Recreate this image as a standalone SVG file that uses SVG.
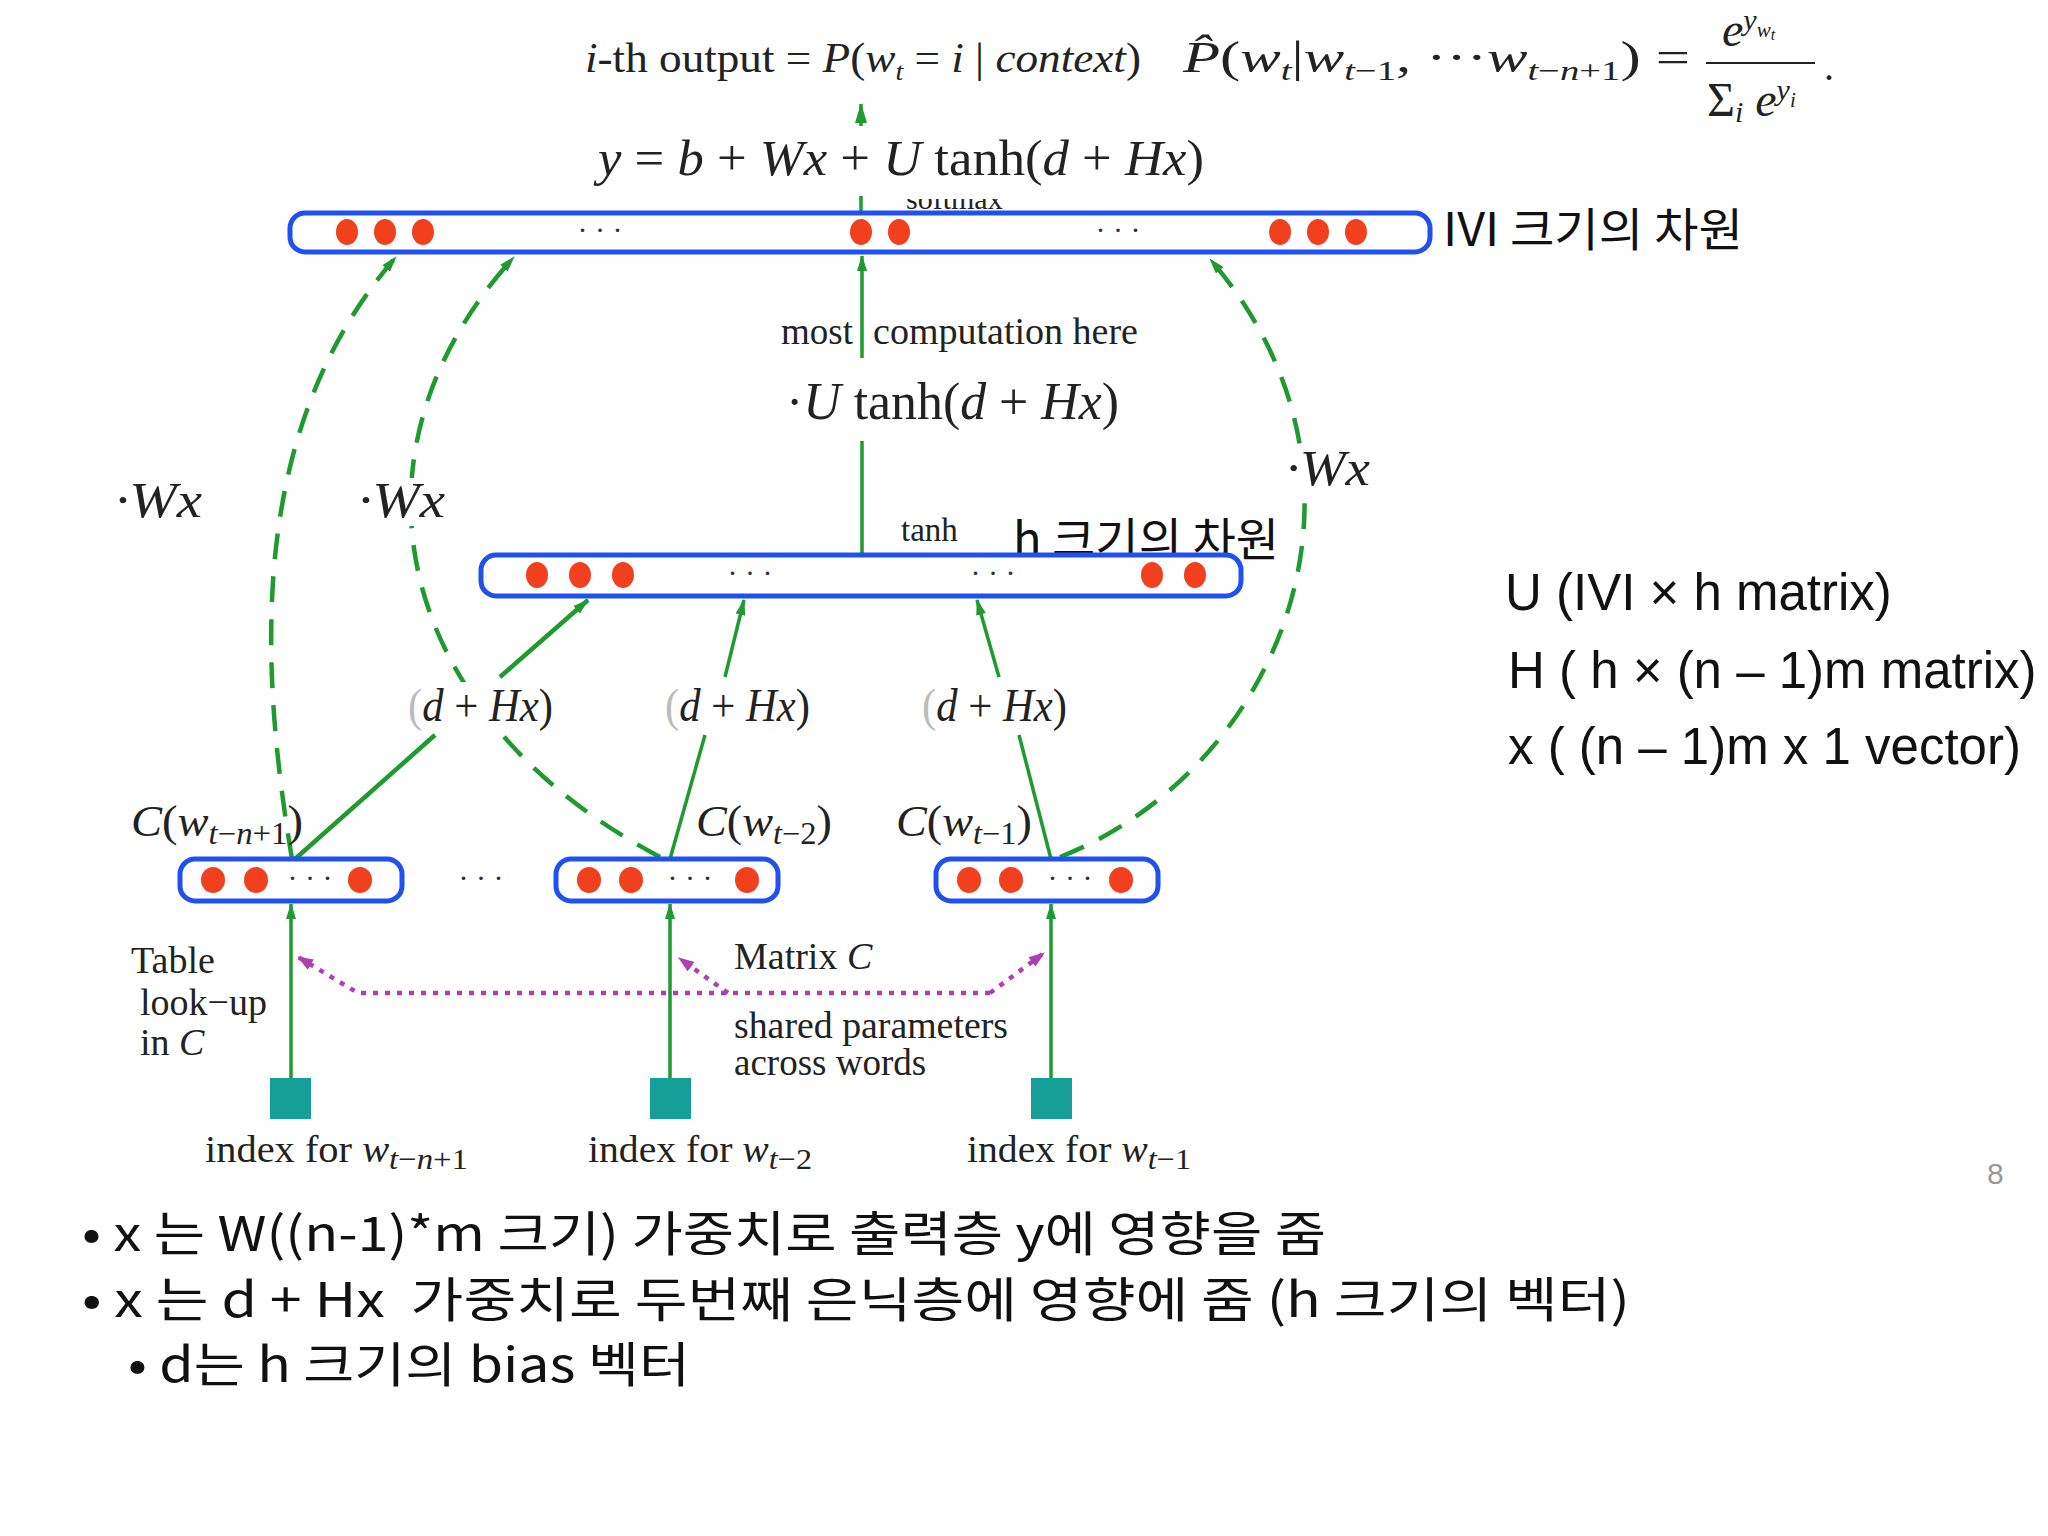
<svg xmlns="http://www.w3.org/2000/svg" width="2048" height="1536" viewBox="0 0 2048 1536">
<style>
.m{font-family:"Liberation Serif",serif;fill:#222}
.i{font-style:italic}
.s{font-family:"Liberation Sans",sans-serif;fill:#111}
.k{font-family:"Noto Sans CJK KR","Liberation Sans",sans-serif;fill:#111}
.box{fill:#fff;stroke:#2050f0;stroke-width:5}
.dot{fill:#f0401e}
.cd{font-family:"Liberation Serif",serif;fill:#333;font-size:30px}
.g{stroke:#1e9a2e;fill:none;stroke-width:3.5}
.gt{stroke:#1e9a2e;fill:none;stroke-width:4.5}
.gd{stroke:#1e9a2e;fill:none;stroke-width:4.5;stroke-dasharray:26 17}
.p{stroke:#b040b0;fill:none;stroke-width:4.5;stroke-dasharray:5 7}
.sq{fill:#169e98}
.bg{fill:#fff}
</style>
<defs>
<marker id="ga" viewBox="0 0 16 10" refX="15" refY="5" markerWidth="16" markerHeight="10" markerUnits="userSpaceOnUse" orient="auto"><path d="M0,0 L16,5 L0,10 z" fill="#1e9a2e"/></marker>
<marker id="gb" viewBox="0 0 20 12" refX="19" refY="6" markerWidth="20" markerHeight="12" markerUnits="userSpaceOnUse" orient="auto"><path d="M0,0 L20,6 L0,12 z" fill="#1e9a2e"/></marker>
<marker id="pa" viewBox="0 0 16 12" refX="15" refY="6" markerWidth="16" markerHeight="12" markerUnits="userSpaceOnUse" orient="auto"><path d="M0,0 L16,6 L0,12 z" fill="#b040b0"/></marker>
<clipPath id="smclip"><rect x="880" y="199" width="200" height="12"/></clipPath>
</defs>
<rect width="2048" height="1536" fill="#fff"/>

<g id="connectors">
<line class="g" x1="861" y1="213" x2="861" y2="104" marker-end="url(#gb)"/>
<line class="g" x1="862" y1="555" x2="862" y2="441"/>
<line class="g" x1="862" y1="358" x2="862" y2="256" marker-end="url(#ga)"/>
<line class="gt" x1="500" y1="677" x2="588" y2="600" marker-end="url(#ga)"/>
<line class="g" x1="725" y1="677" x2="744" y2="600" marker-end="url(#ga)"/>
<line class="g" x1="999" y1="677" x2="977" y2="600" marker-end="url(#ga)"/>
<line class="gt" x1="295" y1="859" x2="435" y2="735"/>
<line class="g" x1="670" y1="859" x2="705" y2="735"/>
<line class="g" x1="1051" y1="859" x2="1019" y2="735"/>
<path class="gd" d="M292,859 C255,640 255,420 396,257" marker-end="url(#ga)"/>
<path class="gd" d="M660,857 C400,720 330,460 514,257" marker-end="url(#ga)"/>
<path class="gd" d="M1060,857 C1280,770 1400,480 1210,259" marker-end="url(#ga)"/>
<line class="g" x1="291" y1="1078" x2="291" y2="904" marker-end="url(#ga)"/>
<line class="g" x1="670" y1="1078" x2="670" y2="904" marker-end="url(#ga)"/>
<line class="g" x1="1051" y1="1078" x2="1051" y2="904" marker-end="url(#ga)"/>
<polyline class="p" points="990,993 358,993 298,957" marker-end="url(#pa)"/>
<line class="p" x1="728" y1="993" x2="679" y2="958" marker-end="url(#pa)"/>
<line class="p" x1="990" y1="993" x2="1044" y2="953" marker-end="url(#pa)"/>
</g>

<g id="formula-top">
<text class="m" x="585" y="72" font-size="42" textLength="556" lengthAdjust="spacingAndGlyphs"><tspan class="i">i</tspan>-th output = <tspan class="i">P</tspan>(<tspan class="i">w</tspan><tspan class="i" font-size="26" dy="8">t</tspan><tspan dy="-8"> = </tspan><tspan class="i">i</tspan> | <tspan class="i">context</tspan>)</text>
<text class="m" x="1183" y="72" font-size="44" textLength="507" lengthAdjust="spacingAndGlyphs"><tspan class="i">P̂</tspan>(<tspan class="i">w</tspan><tspan class="i" font-size="28" dy="8">t</tspan><tspan dy="-8">|</tspan><tspan class="i">w</tspan><tspan class="i" font-size="28" dy="8">t</tspan><tspan font-size="28">−1</tspan><tspan dy="-8">, ···</tspan><tspan class="i">w</tspan><tspan class="i" font-size="28" dy="8">t</tspan><tspan font-size="28">−</tspan><tspan class="i" font-size="28">n</tspan><tspan font-size="28">+1</tspan><tspan dy="-8">) =</tspan></text>
<text class="m" x="1722" y="46" font-size="48"><tspan class="i">e</tspan><tspan class="i" font-size="30" dy="-16">y</tspan><tspan class="i" font-size="21" dy="7">w</tspan><tspan class="i" font-size="16" dy="3">t</tspan></text>
<line x1="1706" y1="63" x2="1815" y2="63" stroke="#222" stroke-width="2"/>
<text class="m" x="1707" y="116" font-size="48">Σ<tspan class="i" font-size="30" dy="6">i</tspan><tspan class="i" dy="-6"> e</tspan><tspan class="i" font-size="30" dy="-16">y</tspan><tspan class="i" font-size="21" dy="7">i</tspan></text>
<text class="m" x="1824" y="80" font-size="40">.</text>
<text class="m" x="906" y="209" font-size="30" clip-path="url(#smclip)">softmax</text>
<rect x="590" y="126" width="620" height="70" fill="#fff"/>
<text class="m" x="598" y="175" font-size="50" textLength="606" lengthAdjust="spacingAndGlyphs"><tspan class="i">y</tspan> = <tspan class="i">b</tspan> + <tspan class="i">Wx</tspan> + <tspan class="i">U</tspan> tanh(<tspan class="i">d</tspan> + <tspan class="i">Hx</tspan>)</text>
</g>

<g id="output-layer">
<rect class="box" x="290" y="213" width="1140" height="39" rx="15"/>
<ellipse class="dot" cx="347" cy="232" rx="11" ry="13"/>
<ellipse class="dot" cx="385" cy="232" rx="11" ry="13"/>
<ellipse class="dot" cx="423" cy="232" rx="11" ry="13"/>
<ellipse class="dot" cx="861" cy="232" rx="11" ry="13"/>
<ellipse class="dot" cx="899" cy="232" rx="11" ry="13"/>
<ellipse class="dot" cx="1280" cy="232" rx="11" ry="13"/>
<ellipse class="dot" cx="1318" cy="232" rx="11" ry="13"/>
<ellipse class="dot" cx="1356" cy="232" rx="11" ry="13"/>
<text class="cd" x="600" y="240" text-anchor="middle">· · ·</text>
<text class="cd" x="1118" y="240" text-anchor="middle">· · ·</text>
<text class="k" x="1443" y="246" font-size="46" textLength="300" lengthAdjust="spacingAndGlyphs">IVI 크기의 차원</text>
</g>

<g id="labels-middle">
<text class="m" x="781" y="344" font-size="37">most</text>
<text class="m" x="873" y="344" font-size="37" textLength="265" lengthAdjust="spacingAndGlyphs">computation here</text>
<text class="m" x="786" y="419" font-size="52" textLength="333" lengthAdjust="spacingAndGlyphs">·<tspan class="i">U</tspan> tanh(<tspan class="i">d</tspan> + <tspan class="i">Hx</tspan>)</text>
<rect class="bg" x="356" y="478" width="90" height="48"/>
<rect class="bg" x="1284" y="446" width="88" height="48"/>
<text class="m i" x="115" y="517" font-size="50" textLength="87" lengthAdjust="spacingAndGlyphs">·Wx</text>
<text class="m i" x="358" y="517" font-size="50" textLength="87" lengthAdjust="spacingAndGlyphs">·Wx</text>
<text class="m i" x="1286" y="485" font-size="50" textLength="84" lengthAdjust="spacingAndGlyphs">·Wx</text>
<text class="m" x="901" y="541" font-size="33">tanh</text>
<text class="k" x="1013" y="556" font-size="46" textLength="266" lengthAdjust="spacingAndGlyphs">h 크기의 차원</text>
</g>

<g id="hidden-layer">
<rect class="box" x="481" y="555" width="760" height="41" rx="15"/>
<ellipse class="dot" cx="537" cy="575" rx="11" ry="13"/>
<ellipse class="dot" cx="580" cy="575" rx="11" ry="13"/>
<ellipse class="dot" cx="623" cy="575" rx="11" ry="13"/>
<ellipse class="dot" cx="1152" cy="575" rx="11" ry="13"/>
<ellipse class="dot" cx="1195" cy="575" rx="11" ry="13"/>
<text class="cd" x="750" y="583" text-anchor="middle">· · ·</text>
<text class="cd" x="993" y="583" text-anchor="middle">· · ·</text>
</g>

<g id="dhx-labels">
<rect class="bg" x="406" y="682" width="150" height="50"/>
<text class="m" x="408" y="721" font-size="46" textLength="145" lengthAdjust="spacingAndGlyphs"><tspan fill="#bbb">(</tspan><tspan class="i">d</tspan> + <tspan class="i">Hx</tspan>)</text>
<text class="m" x="665" y="721" font-size="46" textLength="145" lengthAdjust="spacingAndGlyphs"><tspan fill="#bbb">(</tspan><tspan class="i">d</tspan> + <tspan class="i">Hx</tspan>)</text>
<text class="m" x="922" y="721" font-size="46" textLength="145" lengthAdjust="spacingAndGlyphs"><tspan fill="#bbb">(</tspan><tspan class="i">d</tspan> + <tspan class="i">Hx</tspan>)</text>
</g>

<g id="embed-1">
<rect class="box" x="180" y="859" width="222" height="42" rx="15"/>
<ellipse class="dot" cx="213" cy="880" rx="12" ry="13"/>
<ellipse class="dot" cx="256" cy="880" rx="12" ry="13"/>
<ellipse class="dot" cx="360" cy="880" rx="12" ry="13"/>
<text class="cd" x="310" y="888" text-anchor="middle">· · ·</text>
<text class="m" x="131" y="836" font-size="44" textLength="172" lengthAdjust="spacingAndGlyphs"><tspan class="i">C</tspan>(<tspan class="i">w</tspan><tspan class="i" font-size="31" dy="8">t</tspan><tspan font-size="31">−</tspan><tspan class="i" font-size="31">n</tspan><tspan font-size="31">+1</tspan><tspan dy="-8">)</tspan></text>
</g>
<text class="cd" x="481" y="888" text-anchor="middle">· · ·</text>
<g id="embed-2">
<rect class="box" x="556" y="859" width="222" height="42" rx="15"/>
<ellipse class="dot" cx="589" cy="880" rx="12" ry="13"/>
<ellipse class="dot" cx="631" cy="880" rx="12" ry="13"/>
<ellipse class="dot" cx="747" cy="880" rx="12" ry="13"/>
<text class="cd" x="690" y="888" text-anchor="middle">· · ·</text>
<text class="m" x="696" y="836" font-size="44" textLength="136" lengthAdjust="spacingAndGlyphs"><tspan class="i">C</tspan>(<tspan class="i">w</tspan><tspan class="i" font-size="31" dy="8">t</tspan><tspan font-size="31">−2</tspan><tspan dy="-8">)</tspan></text>
</g>
<g id="embed-3">
<rect class="box" x="936" y="859" width="222" height="42" rx="15"/>
<ellipse class="dot" cx="969" cy="880" rx="12" ry="13"/>
<ellipse class="dot" cx="1011" cy="880" rx="12" ry="13"/>
<ellipse class="dot" cx="1121" cy="880" rx="12" ry="13"/>
<text class="cd" x="1070" y="888" text-anchor="middle">· · ·</text>
<text class="m" x="896" y="836" font-size="44" textLength="136" lengthAdjust="spacingAndGlyphs"><tspan class="i">C</tspan>(<tspan class="i">w</tspan><tspan class="i" font-size="31" dy="8">t</tspan><tspan font-size="31">−1</tspan><tspan dy="-8">)</tspan></text>
</g>

<g id="lookup-labels">
<text class="m" x="131" y="973" font-size="38">Table</text>
<text class="m" x="140" y="1015" font-size="38">look−up</text>
<text class="m" x="140" y="1055" font-size="38">in <tspan class="i">C</tspan></text>
<text class="m" x="734" y="969" font-size="38">Matrix <tspan class="i">C</tspan></text>
<text class="m" x="734" y="1038" font-size="37" textLength="274" lengthAdjust="spacingAndGlyphs">shared parameters</text>
<text class="m" x="734" y="1075" font-size="37">across words</text>
</g>

<g id="index-1">
<rect class="sq" x="270" y="1078" width="41" height="41"/>
<text class="m" x="205" y="1162" font-size="37" textLength="263" lengthAdjust="spacingAndGlyphs">index for <tspan class="i">w</tspan><tspan class="i" font-size="30" dy="7">t</tspan><tspan font-size="30">−</tspan><tspan class="i" font-size="30">n</tspan><tspan font-size="30">+1</tspan></text>
</g>
<g id="index-2">
<rect class="sq" x="650" y="1078" width="41" height="41"/>
<text class="m" x="588" y="1162" font-size="37" textLength="224" lengthAdjust="spacingAndGlyphs">index for <tspan class="i">w</tspan><tspan class="i" font-size="30" dy="7">t</tspan><tspan font-size="30">−2</tspan></text>
</g>
<g id="index-3">
<rect class="sq" x="1031" y="1078" width="41" height="41"/>
<text class="m" x="967" y="1162" font-size="37" textLength="224" lengthAdjust="spacingAndGlyphs">index for <tspan class="i">w</tspan><tspan class="i" font-size="30" dy="7">t</tspan><tspan font-size="30">−1</tspan></text>
</g>

<g id="matrix-notes">
<text class="s" x="1505" y="610" font-size="51">U (IVI × h matrix)</text>
<text class="s" x="1508" y="688" font-size="51">H ( h × (n – 1)m matrix)</text>
<text class="s" x="1508" y="764" font-size="51">x ( (n – 1)m x 1 vector)</text>
</g>

<text class="s" x="1987" y="1184" font-size="30" style="fill:#999">8</text>

<g id="bullets">
<text class="k" x="82" y="1251" font-size="48" textLength="1244" lengthAdjust="spacingAndGlyphs">• x 는 W((n-1)*m 크기) 가중치로 출력층 y에 영향을 줌</text>
<text class="k" x="82" y="1317" font-size="48" textLength="1548" lengthAdjust="spacingAndGlyphs">• x 는 d + Hx&#160; 가중치로 두번째 은닉층에 영향에 줌 (h 크기의 벡터)</text>
<text class="k" x="128" y="1382" font-size="48" textLength="562" lengthAdjust="spacingAndGlyphs">• d는 h 크기의 bias 벡터</text>
</g>
</svg>
